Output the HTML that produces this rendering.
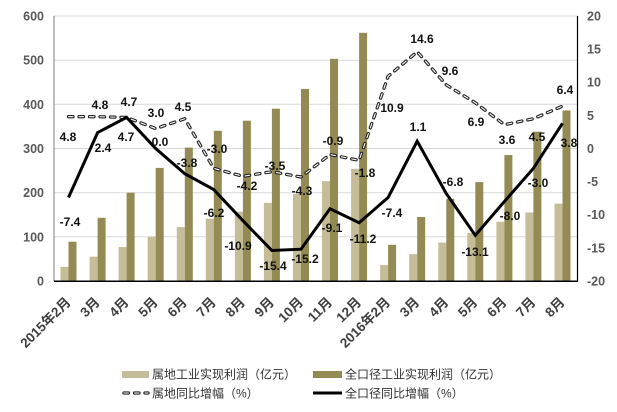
<!DOCTYPE html>
<html><head><meta charset="utf-8"><style>
html,body{margin:0;padding:0;background:#fff;}
svg{display:block;}
.ax{font-family:"Liberation Sans","Noto Sans CJK SC",sans-serif;font-weight:bold;font-size:12.5px;fill:#595959;}
.xl{font-family:"Liberation Sans","Noto Sans CJK SC",sans-serif;font-weight:bold;font-size:13.5px;fill:#404040;}
.dl{font-family:"Liberation Sans","Noto Sans CJK SC",sans-serif;font-weight:bold;font-size:12px;fill:#111;text-anchor:middle;}
.lg{font-family:"Liberation Sans","Noto Sans CJK SC",sans-serif;font-size:12px;fill:#333;}
</style></head><body>
<svg width="617" height="412" viewBox="0 0 617 412" xmlns="http://www.w3.org/2000/svg">
<rect width="617" height="412" fill="#fff"/>
<g stroke="#D9D9D9" stroke-width="1">
<line x1="54" y1="16" x2="577" y2="16"/>
<line x1="54" y1="60.2" x2="577" y2="60.2"/>
<line x1="54" y1="104.3" x2="577" y2="104.3"/>
<line x1="54" y1="148.5" x2="577" y2="148.5"/>
<line x1="54" y1="192.7" x2="577" y2="192.7"/>
<line x1="54" y1="236.8" x2="577" y2="236.8"/>
</g>
<g fill="#C4BD97">
<rect x="60.5" y="266.9" width="8" height="14.1"/>
<rect x="89.6" y="256.7" width="8" height="24.3"/>
<rect x="118.6" y="247.0" width="8" height="34.0"/>
<rect x="147.7" y="236.8" width="8" height="44.2"/>
<rect x="176.8" y="227.1" width="8" height="53.9"/>
<rect x="205.8" y="218.7" width="8" height="62.3"/>
<rect x="234.9" y="211.7" width="8" height="69.3"/>
<rect x="263.9" y="202.8" width="8" height="78.2"/>
<rect x="293.0" y="194.0" width="8" height="87.0"/>
<rect x="322.0" y="181.2" width="8" height="99.8"/>
<rect x="351.1" y="168.8" width="8" height="112.2"/>
<rect x="380.1" y="265.1" width="8" height="15.9"/>
<rect x="409.2" y="254.1" width="8" height="26.9"/>
<rect x="438.3" y="242.6" width="8" height="38.4"/>
<rect x="467.3" y="232.9" width="8" height="48.1"/>
<rect x="496.4" y="221.8" width="8" height="59.2"/>
<rect x="525.4" y="212.5" width="8" height="68.5"/>
<rect x="554.5" y="203.7" width="8" height="77.3"/>
</g>
<g fill="#948A54">
<rect x="68.5" y="241.7" width="8" height="39.3"/>
<rect x="97.6" y="217.8" width="8" height="63.2"/>
<rect x="126.6" y="192.7" width="8" height="88.3"/>
<rect x="155.7" y="167.9" width="8" height="113.1"/>
<rect x="184.8" y="147.6" width="8" height="133.4"/>
<rect x="213.8" y="130.8" width="8" height="150.2"/>
<rect x="242.9" y="120.7" width="8" height="160.3"/>
<rect x="271.9" y="108.7" width="8" height="172.3"/>
<rect x="301.0" y="88.9" width="8" height="192.1"/>
<rect x="330.0" y="58.8" width="8" height="222.2"/>
<rect x="359.1" y="32.8" width="8" height="248.2"/>
<rect x="388.1" y="244.8" width="8" height="36.2"/>
<rect x="417.2" y="217.0" width="8" height="64.0"/>
<rect x="446.3" y="198.8" width="8" height="82.2"/>
<rect x="475.3" y="182.1" width="8" height="98.9"/>
<rect x="504.4" y="155.1" width="8" height="125.9"/>
<rect x="533.4" y="131.7" width="8" height="149.3"/>
<rect x="562.5" y="110.5" width="8" height="170.5"/>
</g>
<!-- axes -->
<line x1="54" y1="16" x2="54" y2="281" stroke="#7f7f7f" stroke-width="1"/>
<line x1="577.5" y1="16" x2="577.5" y2="281.5" stroke="#000" stroke-width="1.2"/>
<line x1="54" y1="281.3" x2="578" y2="281.3" stroke="#000" stroke-width="1.5"/>
<!-- dashed line -->
<path d="M68.5,116.7 L97.6,116.7 L126.6,117.4 L155.7,128.6 L184.8,118.7 L213.8,168.4 L242.9,176.3 L271.9,171.7 L301.0,177.0 L330.0,154.5 L359.1,160.4 L388.1,76.3 L417.2,51.8 L446.3,84.9 L475.3,102.8 L504.4,124.7 L533.4,118.7 L562.5,106.1" fill="none" stroke="#222" stroke-width="3.3" stroke-dasharray="4.5 6" stroke-linecap="round" stroke-linejoin="round"/>
<path d="M68.5,116.7 L97.6,116.7 L126.6,117.4 L155.7,128.6 L184.8,118.7 L213.8,168.4 L242.9,176.3 L271.9,171.7 L301.0,177.0 L330.0,154.5 L359.1,160.4 L388.1,76.3 L417.2,51.8 L446.3,84.9 L475.3,102.8 L504.4,124.7 L533.4,118.7 L562.5,106.1" fill="none" stroke="#fff" stroke-width="1.1" stroke-dasharray="4.5 6" stroke-linecap="round" stroke-linejoin="round"/>
<!-- solid line -->
<path d="M68.5,197.5 L97.6,132.6 L126.6,117.4 L155.7,148.5 L184.8,173.7 L213.8,189.6 L242.9,220.7 L271.9,250.5 L301.0,249.2 L330.0,208.8 L359.1,222.7 L388.1,197.5 L417.2,141.2 L446.3,193.6 L475.3,235.3 L504.4,201.5 L533.4,168.4 L562.5,123.3" fill="none" stroke="#000" stroke-width="3" stroke-linejoin="miter"/>
<!-- left axis labels -->
<g class="ax" text-anchor="end">
<text x="44" y="20.5">600</text>
<text x="44" y="64.7">500</text>
<text x="44" y="108.8">400</text>
<text x="44" y="153">300</text>
<text x="44" y="197.2">200</text>
<text x="44" y="241.3">100</text>
<text x="44" y="285.5">0</text>
</g>
<g class="ax" text-anchor="start">
<text x="587" y="20.5">20</text>
<text x="587" y="53.6">15</text>
<text x="587" y="86.7">10</text>
<text x="587" y="119.8">5</text>
<text x="587" y="153">0</text>
<text x="587" y="186.1">-5</text>
<text x="587" y="219.2">-10</text>
<text x="587" y="252.3">-15</text>
<text x="587" y="285.5">-20</text>
</g>
<!-- data labels dashed -->
<g class="dl">
<text x="68" y="141">4.8</text>
<text x="100" y="109">4.8</text>
<text x="129" y="106">4.7</text>
<text x="156" y="117">3.0</text>
<text x="183" y="111">4.5</text>
<text x="217" y="153">-3.0</text>
<text x="247" y="190">-4.2</text>
<text x="275" y="170">-3.5</text>
<text x="302" y="195">-4.3</text>
<text x="333" y="145">-0.9</text>
<text x="365" y="177">-1.8</text>
<text x="392" y="112">10.9</text>
<text x="422" y="43">14.6</text>
<text x="450" y="75">9.6</text>
<text x="476" y="126">6.9</text>
<text x="507" y="144">3.6</text>
<text x="537" y="141">4.5</text>
<text x="565" y="94">6.4</text>
</g>
<!-- data labels solid -->
<g class="dl">
<text x="70" y="226">-7.4</text>
<text x="103" y="152">2.4</text>
<text x="126" y="141">4.7</text>
<text x="160" y="146">0.0</text>
<text x="187" y="167">-3.8</text>
<text x="214" y="217">-6.2</text>
<text x="238" y="250">-10.9</text>
<text x="273" y="270">-15.4</text>
<text x="305" y="263">-15.2</text>
<text x="332" y="232">-9.1</text>
<text x="363" y="243">-11.2</text>
<text x="392" y="217">-7.4</text>
<text x="418" y="131">1.1</text>
<text x="453" y="186">-6.8</text>
<text x="475" y="256">-13.1</text>
<text x="510" y="220">-8.0</text>
<text x="538" y="187">-3.0</text>
<text x="569" y="147">3.8</text>
</g>
<!-- x labels -->
<g class="xl" text-anchor="end">
<text transform="translate(71.5,303) rotate(-45)">2015年2月</text>
<text transform="translate(100.6,303) rotate(-45)">3月</text>
<text transform="translate(129.6,303) rotate(-45)">4月</text>
<text transform="translate(158.7,303) rotate(-45)">5月</text>
<text transform="translate(187.8,303) rotate(-45)">6月</text>
<text transform="translate(216.8,303) rotate(-45)">7月</text>
<text transform="translate(245.9,303) rotate(-45)">8月</text>
<text transform="translate(274.9,303) rotate(-45)">9月</text>
<text transform="translate(304.0,303) rotate(-45)">10月</text>
<text transform="translate(333.0,303) rotate(-45)">11月</text>
<text transform="translate(362.1,303) rotate(-45)">12月</text>
<text transform="translate(391.1,303) rotate(-45)">2016年2月</text>
<text transform="translate(420.2,303) rotate(-45)">3月</text>
<text transform="translate(449.3,303) rotate(-45)">4月</text>
<text transform="translate(478.3,303) rotate(-45)">5月</text>
<text transform="translate(507.4,303) rotate(-45)">6月</text>
<text transform="translate(536.4,303) rotate(-45)">7月</text>
<text transform="translate(565.5,303) rotate(-45)">8月</text>
</g>
<!-- legend -->
<rect x="122" y="371" width="27" height="7" fill="#C4BD97"/>
<text class="lg" x="152" y="378.5">属地工业实现利润（亿元）</text>
<rect x="313" y="371" width="29" height="7" fill="#948A54"/>
<text class="lg" x="345" y="378.5">全口径工业实现利润（亿元）</text>
<line x1="124" y1="393" x2="148" y2="393" stroke="#222" stroke-width="3.3" stroke-dasharray="4.5 6" stroke-linecap="round"/>
<line x1="124" y1="393" x2="148" y2="393" stroke="#fff" stroke-width="1.1" stroke-dasharray="4.5 6" stroke-linecap="round"/>
<text class="lg" x="152" y="397.5">属地同比增幅（%）</text>
<line x1="313" y1="393" x2="342" y2="393" stroke="#000" stroke-width="3"/>
<text class="lg" x="345" y="397.5">全口径同比增幅（%）</text>
</svg>
</body></html>
